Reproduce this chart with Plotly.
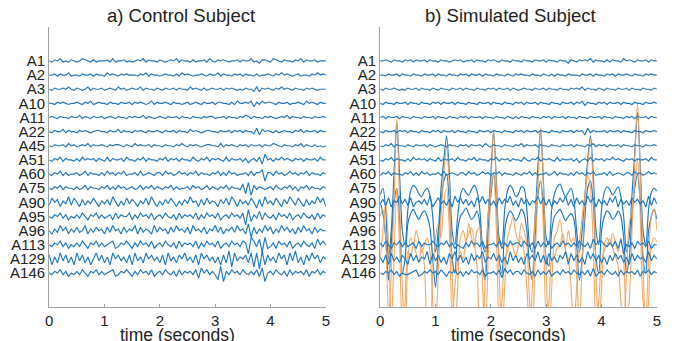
import numpy as np
import plotly.graph_objects as go

# ---------------- data ----------------
channels = ["A1", "A2", "A3", "A10", "A11", "A22", "A45", "A51",
            "A60", "A75", "A90", "A95", "A96", "A113", "A129", "A146"]
x_ticks = [0, 1, 2, 3, 4, 5]
duration = 5.0

# Control subject: one digit per sample (5 = channel baseline)
control_traces = [
    "5465745465 4576546455 5647455645 4565746554 6545657465 5464556475 4656545564 6557453665 4765465546 5746556455 5",
    "5564655745 5465564655 4756546565 5546574655 4565546475 6545565465 5746554656 4655464556 5465756545 6455465756 5",
    "5465565754 6545746556 4565475645 6557465546 5465564655 4756546456 5564656545 4655373656 5465756546 5546565455 5",
    "5546565455 6546574565 5465546556 4656545746 5565465545 6456546556 4665546475 5657264756 6546556455 6547565465 5",
    "5654655465 5746546556 4565465546 5655746545 6546556465 5465546566 4556465546 5764655465 6545657465 5465546556 5",
    "5465574655 4656545665 5465574655 4656546556 5465564655 4756545665 5465564656 4655382756 5464565546 5746556465 5",
    "5465564756 4565746556 5465665465 4756556465 5465546575 4656545665 5474656546 5646556465 5765465546 5746546454 5",
    "5465746554 6475656465 4746556475 5465746554 6574656465 5475465746 5654746556 4635647295 6465756546 5646556475 5",
    "5465746455 6457465546 4756465745 5647456546 6475645756 4657465546 5746475645 5647466806 6475645756 4657465546 5",
    "5465746554 6457465546 5746475645 6457465746 5465746455 6475645746 5465746554 8190746545 6475465746 3657465546 5",
    "3857264938 5273648526 4739526384 7526483952 6374852637 4956273846 5274839627 4638517294 6385274963 8527364958 2",
    "5465746354 6475365746 4563746557 3647564735 6475463746 5647364756 4735647564 7092648375 4637564735 6475463746 5",
    "5364857364 7458364756 3748563746 5837465384 7563748564 7385647365 8473657485 6391736485 7364857463 7485637465 5",
    "5465746354 6475365746 4567346575 3647564735 6475463746 5647364756 4735647564 7609748193 4637564735 6475463857 5",
    "7263847362 8473625847 3628574637 2846385746 3728463758 4637285746 3627391846 5738180927 4638572849 3627485736 5",
    "5465746354 6475365746 4567346575 3647564735 6475463746 5647285746 4190647564 7546473805 6475463746 5647365746 5",
]
control_amp = [0.08, 0.08, 0.08, 0.08, 0.08, 0.08, 0.08, 0.1,
               0.1, 0.1, 0.1, 0.12, 0.12, 0.13, 0.14, 0.12]

# Simulated subject: background channels (digit strings)
sim_names = ["A1", "A2", "A3", "A10", "A11", "A22", "A45", "A51", "A60",
             "A90", "A113", "A129", "A146"]
sim_traces = [
    "5565465546 5646556465 5465545656 4556465546 5654655465 5465546556 4655465536 5465657465 5464655475 6546556465 5",
    "5546556465 5465546556 4655465546 5646556465 5465546546 5655465546 5464655465 5546556465 5465646556 5465546565 5",
    "5465565454 6556465546 5465546556 4655465546 5646556465 4565546556 4655465546 5657465546 5465546556 4655465546 5",
    "5465546556 4655465546 5646556465 5465546556 4655465546 5646556465 5465546556 4657365546 5646556465 5465546556 5",
    "5646556465 5465546556 4655465546 5646556465 5465546546 4655465546 5646556465 5465546556 4655465546 5646556465 5",
    "5465564656 4655465546 5646556465 5465546556 4655465546 5646556465 5465546556 4656284655 5646556465 5465546556 5",
    "5465746554 6546556465 4565465546 5646556475 4655465546 5746556465 5465546556 4655465746 5646556465 5465546556 5",
    "5465746554 6475656465 4746556475 5465746554 6574656465 5475465746 5654746556 4635647465 6465756546 5646556475 5",
    "4657465546 5746475645 5647456546 6475645756 4657465546 5465746455 6457465546 4756465745 5647456546 6475645756 5",
    "4738265947 3825647392 5846372958 4736285947 3628475936 2847365948 3726485937 2846395827 4638592746 3857462938 4",
    "6475365746 4563746557 5465746354 3647564735 5647364756 6475463746 4735647564 6475463857 7546473805 4637564735 5",
    "6372846375 2847365928 4736285947 3628475936 5847362947 3628574937 2846375928 4736295847 3627485736 2847563947 5",
    "5465746354 4567346575 6475365746 3647564735 5647285746 6475463746 4735647564 7546473835 6475463746 5647365746 5",
]
sim_amp = [0.08, 0.08, 0.08, 0.08, 0.08, 0.08, 0.08, 0.09, 0.09,
           0.11, 0.13, 0.13, 0.11]

# Simulated subject: spike-wave channels, vertical position in channel rows (0 = A1 row)
sim_A75 = [9.5, 9.0, 10.5, 14.0, 12.0, 8.0, 4.3, 8.0, 12.0, 13.0,
           10.5, 9.2, 8.8, 9.0, 9.4, 9.6, 9.2, 9.0, 9.5, 11.0,
           13.5, 12.0, 9.0, 7.0, 5.3, 8.0, 12.0, 13.0, 11.0, 9.5,
           9.0, 9.3, 9.5, 9.1, 8.8, 9.2, 10.5, 13.0, 13.5, 11.0,
           8.0, 5.0, 8.5, 12.5, 13.0, 10.5, 9.2, 8.8, 9.1, 9.6,
           9.4, 8.9, 9.0, 10.5, 13.0, 13.5, 11.0, 7.5, 4.8, 8.5,
           12.5, 13.0, 10.5, 9.4, 8.9, 8.7, 9.2, 9.6, 9.3, 9.0,
           9.8, 12.0, 13.5, 12.0, 9.5, 7.0, 5.3, 8.0, 12.0, 13.0,
           10.5, 9.3, 8.9, 9.1, 9.5, 9.2, 8.9, 9.6, 11.0, 13.5,
           12.5, 9.5, 6.5, 3.6, 7.5, 12.0, 13.0, 10.5, 9.3, 9.0,
           9.2]
sim_A95 = [10.0, 10.8, 12.5, 15.5, 13.0, 10.0, 9.0, 11.0, 15.0, 14.0,
           11.5, 10.8, 10.5, 10.9, 11.2, 10.8, 10.6, 11.0, 11.8, 14.0,
           16.0, 13.0, 10.0, 8.5, 8.0, 10.0, 14.0, 15.0, 12.0, 11.0,
           10.7, 10.4, 10.8, 11.2, 11.0, 10.6, 11.5, 14.5, 15.5, 12.0,
           9.5, 8.0, 10.0, 14.0, 15.0, 12.0, 11.0, 10.6, 10.9, 11.3,
           11.0, 10.5, 10.8, 12.0, 14.5, 15.5, 12.5, 9.5, 8.5, 10.5,
           14.0, 14.5, 12.0, 11.0, 10.7, 10.5, 10.9, 11.3, 11.0, 10.8,
           11.2, 13.0, 15.5, 14.0, 11.0, 9.0, 8.5, 10.0, 14.0, 15.0,
           12.0, 11.0, 10.6, 10.8, 11.2, 11.0, 10.6, 11.0, 12.5, 15.0,
           14.0, 11.0, 9.0, 8.0, 10.0, 14.0, 15.0, 12.0, 11.0, 10.5,
           11.2]
sim_A96_orange = [11.0, 10.5, 12.5, 18.0, 15.0, 10.0, 4.0, 10.0, 16.0, 19.5,
                  14.0, 12.5, 13.0, 12.0, 12.8, 13.5, 13.0, 12.5, 13.5, 17.0,
                  19.0, 15.0, 11.0, 8.0, 6.0, 9.0, 15.0, 19.5, 16.0, 12.5,
                  12.0, 12.8, 11.5, 12.5, 13.2, 12.0, 11.8, 16.0, 19.5, 14.0,
                  9.0, 4.9, 9.0, 15.0, 19.5, 16.0, 12.5, 11.8, 11.0, 12.2,
                  12.8, 11.5, 12.0, 13.0, 17.0, 19.5, 14.0, 9.0, 4.7, 9.0,
                  15.0, 19.5, 16.0, 12.5, 12.0, 11.2, 12.5, 13.2, 12.0, 12.8,
                  12.5, 15.0, 19.0, 14.0, 10.0, 7.5, 5.5, 9.0, 15.0, 19.5,
                  16.0, 13.0, 12.5, 13.0, 12.2, 12.8, 13.5, 12.5, 14.0, 18.5,
                  17.0, 12.0, 7.0, 3.0, 8.0, 14.0, 19.5, 17.0, 13.0, 12.5,
                  12.8]
sim_orange_2 = [14.0, 12.0, 10.0, 13.0, 18.5, 14.0, 9.0, 13.0, 19.0, 17.0,
                13.5, 13.8, 13.0, 13.6, 14.2, 13.2, 14.5, 18.5, 19.0, 15.0,
                12.5, 11.5, 12.5, 10.0, 9.0, 12.0, 18.0, 16.0, 14.2, 13.5,
                14.0, 12.8, 12.2, 11.8, 12.8, 14.5, 18.5, 19.0, 15.0, 11.0,
                9.0, 8.0, 12.0, 18.5, 17.0, 14.0, 13.5, 12.8, 13.2, 13.8,
                13.0, 12.4, 13.5, 16.0, 19.0, 16.0, 11.0, 9.0, 8.5, 12.0,
                18.0, 17.0, 14.0, 13.8, 13.2, 13.0, 12.2, 13.4, 14.0, 16.0,
                19.0, 16.0, 13.0, 11.0, 9.5, 8.0, 9.0, 13.0, 19.0, 17.0,
                14.2, 13.4, 13.0, 12.6, 13.2, 13.8, 14.5, 17.0, 19.2, 15.0,
                11.5, 10.5, 8.5, 7.0, 11.0, 17.0, 18.0, 14.0, 11.0, 10.5,
                12.0]

# ---------------- figure ----------------
BLUE = "#1f78c1"
ORANGE = "#f0a45c"
FONT = "Liberation Sans, Arial, sans-serif"
LW = 1.15


def decode(s, row, amp):
    d = np.array([int(c) for c in s.replace(" ", "")], dtype=float)
    t = np.linspace(0, duration, len(d))
    return t, row - (d - 5) * amp


fig = go.Figure()

for name, s, a in zip(channels, control_traces, control_amp):
    t, y = decode(s, channels.index(name), a)
    fig.add_trace(go.Scatter(x=t, y=y, mode="lines", xaxis="x", yaxis="y",
                             line=dict(color=BLUE, width=LW), showlegend=False))

for arr in (sim_A75, sim_A95):
    t = np.linspace(0, duration, len(arr))
    fig.add_trace(go.Scatter(x=t, y=arr, mode="lines", xaxis="x2", yaxis="y2",
                             line=dict(color=BLUE, width=LW, shape="spline", smoothing=0.8),
                             showlegend=False))
for arr in (sim_A96_orange, sim_orange_2):
    t = np.linspace(0, duration, len(arr))
    fig.add_trace(go.Scatter(x=t, y=arr, mode="lines", xaxis="x2", yaxis="y2",
                             line=dict(color=ORANGE, width=LW, shape="spline", smoothing=0.8),
                             opacity=0.9, showlegend=False))
for name, s, a in zip(sim_names, sim_traces, sim_amp):
    t, y = decode(s, channels.index(name), a)
    fig.add_trace(go.Scatter(x=t, y=y, mode="lines", xaxis="x2", yaxis="y2",
                             line=dict(color=BLUE, width=LW), showlegend=False))

W, H = 675, 341
ydom = [(H - 307) / H, (H - 27) / H]
common_x = dict(range=[0, 5], tickvals=x_ticks, ticktext=[str(v) for v in x_ticks],
                ticks="inside", ticklen=3, tickcolor="#a0a0a0",
                showline=True, linecolor="#a0a0a0", linewidth=1,
                showgrid=False, zeroline=False,
                tickfont=dict(family=FONT, size=15, color="#222"))
common_y = dict(range=[17.4, -2.4], tickvals=list(range(len(channels))), ticktext=channels,
                ticks="", showline=True, linecolor="#a0a0a0", linewidth=1,
                showgrid=False, zeroline=False, domain=ydom,
                tickfont=dict(family=FONT, size=15, color="#222"))

fig.update_layout(
    width=W, height=H, margin=dict(l=0, r=0, t=0, b=0),
    paper_bgcolor="white", plot_bgcolor="white",
    xaxis=dict(domain=[45.7 / W, 325.7 / W], anchor="y", **common_x),
    yaxis=dict(anchor="x", **common_y),
    xaxis2=dict(domain=[380.7 / W, 660.7 / W], anchor="y2", **common_x),
    yaxis2=dict(anchor="x2", **common_y),
    annotations=[
        dict(text="a) Control Subject", x=179 / W, y=1 - 16 / H,
             xref="paper", yref="paper", showarrow=False, xanchor="center", yanchor="middle",
             font=dict(family=FONT, size=18.5, color="#222")),
        dict(text="b) Simulated Subject", x=513 / W, y=1 - 16 / H,
             xref="paper", yref="paper", showarrow=False, xanchor="center", yanchor="middle",
             font=dict(family=FONT, size=18.5, color="#222")),
        dict(text="time (seconds)", x=176 / W, y=1 - 335 / H,
             xref="paper", yref="paper", showarrow=False, xanchor="center", yanchor="middle",
             font=dict(family=FONT, size=17.5, color="#222")),
        dict(text="time (seconds)", x=511 / W, y=1 - 335 / H,
             xref="paper", yref="paper", showarrow=False, xanchor="center", yanchor="middle",
             font=dict(family=FONT, size=17.5, color="#222")),
    ],
)

fig.write_html("out.html")
